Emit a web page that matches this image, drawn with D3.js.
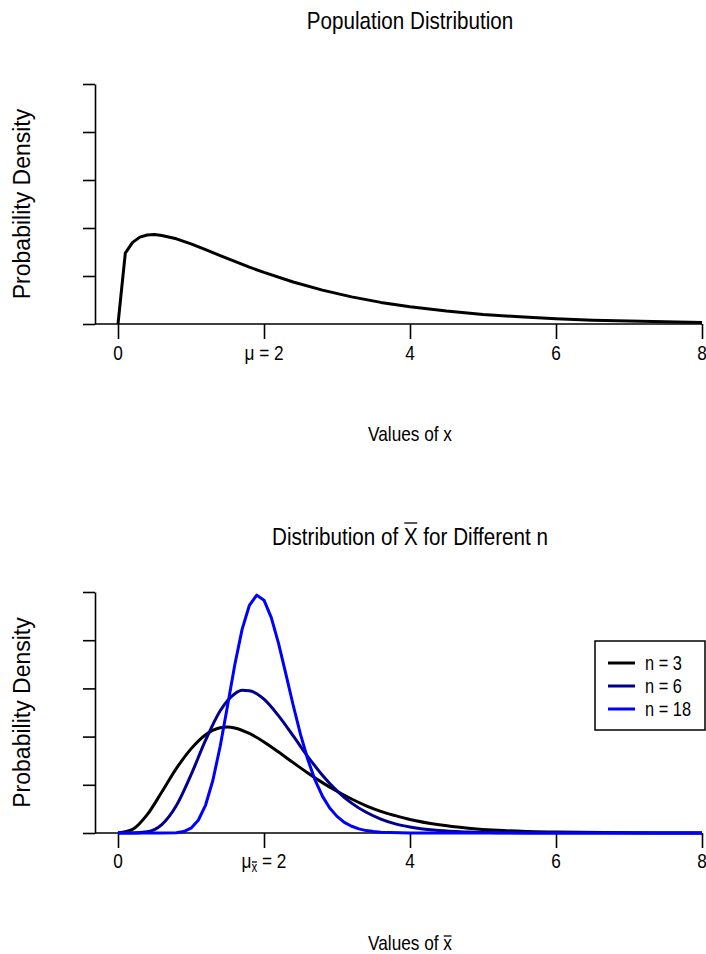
<!DOCTYPE html>
<html>
<head>
<meta charset="utf-8">
<script src="https://cdn.jsdelivr.net/npm/d3@7"></script>
<style>
  body { margin: 0; background: #fff; }
  svg { display: block; }
</style>
</head>
<body>
<div id="chart"></div>
<script>
// population density
const popX = [0, 0.1, 0.2, 0.3, 0.4, 0.5, 0.6, 0.8, 1.0, 1.2, 1.4, 1.6, 1.8, 2.0,
  2.4, 2.8, 3.2, 3.6, 4.0, 4.5, 5.0, 5.5, 6.0, 6.5, 7.0, 7.5, 8.0];
const popDensity = [0, 0.295, 0.340, 0.362, 0.371, 0.373, 0.369, 0.355, 0.334, 0.310,
  0.285, 0.261, 0.237, 0.215, 0.175, 0.141, 0.113, 0.090, 0.072, 0.054, 0.040, 0.030,
  0.022, 0.016, 0.012, 0.009, 0.006];

// sampling distributions of the mean
const n3X = [0, 0.2, 0.4, 0.6, 0.8, 1.0, 1.2, 1.4, 1.5, 1.6, 1.8, 2.0, 2.2, 2.4, 2.6, 2.8,
  3.0, 3.2, 3.4, 3.6, 3.8, 4.0, 4.4, 4.8, 5.2, 5.6, 6.0, 7.0, 8.0];
const densN3 = [0, 0.015, 0.076, 0.170, 0.268, 0.349, 0.408, 0.437, 0.440, 0.436, 0.413,
  0.378, 0.336, 0.292, 0.249, 0.209, 0.173, 0.141, 0.113, 0.090, 0.072, 0.056, 0.034,
  0.020, 0.011, 0.006, 0.004, 0.001, 0.0002];
const n6X = [0, 0.2, 0.4, 0.6, 0.8, 1.0, 1.2, 1.4, 1.6, 1.7, 1.8, 1.9, 2.0, 2.2, 2.4, 2.6,
  2.8, 3.0, 3.2, 3.4, 3.6, 3.8, 4.0, 4.4, 4.8, 5.2, 5.6, 6.0, 7.0, 8.0];
const densN6 = [0, 0.0001, 0.005, 0.035, 0.114, 0.241, 0.385, 0.507, 0.578, 0.592, 0.590,
  0.578, 0.555, 0.486, 0.403, 0.317, 0.240, 0.175, 0.124, 0.086, 0.058, 0.038, 0.025,
  0.010, 0.004, 0.0013, 0.0004, 0.0001, 0, 0];
const n18X = [0, 0.6, 0.8, 0.9, 1.0, 1.1, 1.2, 1.3, 1.4, 1.5, 1.6, 1.7, 1.8, 1.9, 2.0,
  2.1, 2.2, 2.3, 2.4, 2.5, 2.6, 2.7, 2.8, 2.9, 3.0, 3.1, 3.2, 3.3, 3.4, 3.5, 3.6, 4.0, 8.0];
const densN18 = [0, 0, 0.001, 0.006, 0.020, 0.053, 0.116, 0.219, 0.360, 0.527, 0.698,
  0.845, 0.945, 0.987, 0.966, 0.894, 0.786, 0.659, 0.530, 0.409, 0.305, 0.219, 0.153,
  0.104, 0.069, 0.044, 0.028, 0.017, 0.010, 0.006, 0.0035, 0.0003, 0];

const legendLabels = ['n = 3', 'n = 6', 'n = 18'];
const seriesColors = ['#000000', '#00008b', '#0000ff'];
const xTicks = [0, 2, 4, 6, 8];
const yTicks = [0, 0.2, 0.4, 0.6, 0.8, 1.0];

const WIDTH = 706;
const HEIGHT = 954;
const FONT = '"Liberation Sans", Arial, sans-serif';
const NARROW = 0.82; // no narrow face installed, squeeze horizontally
const AXIS_X = 95;

const svg = d3.select('#chart').append('svg')
  .attr('width', WIDTH)
  .attr('height', HEIGHT);

const x = d3.scaleLinear().domain([0, 8]).range([118, 702]);

// text made of pieces, some with an overline and/or as subscript
const richText = (parent, px, py, segments, opts) => {
  const g = parent.append('g')
    .attr('transform', `translate(${px},${py}) scale(${opts.sx || NARROW},1)`);
  const text = g.append('text')
    .attr('text-anchor', opts.anchor || 'middle')
    .style('font-family', FONT)
    .style('font-size', `${opts.size}px`)
    .attr('fill', '#000');

  let shift = 0;
  segments.forEach((s) => {
    const ts = text.append('tspan').text(s.t);
    const want = s.sub ? opts.subShift : 0;
    if (want !== shift) {
      ts.attr('dy', want - shift);
      shift = want;
    }
    if (s.sub) ts.style('font-size', `${opts.subSize}px`);
  });

  const node = text.node();
  let idx = 0;
  segments.forEach((s) => {
    if (s.bar) {
      const a = node.getStartPositionOfChar(idx);
      const b = node.getEndPositionOfChar(idx + s.t.length - 1);
      const barY = a.y - s.barH;
      g.append('line')
        .attr('x1', a.x + 0.5)
        .attr('x2', b.x - 0.5)
        .attr('y1', barY)
        .attr('y2', barY)
        .attr('stroke', '#000')
        .attr('stroke-width', 1.3);
    }
    idx += s.t.length;
  });
  return g;
};

const drawPanel = (cfg) => {
  const y = d3.scaleLinear().domain([0, 1]).range([cfg.bottom, cfg.top]);
  const g = svg.append('g');

  // y axis, no labels
  g.append('g')
    .attr('transform', `translate(${AXIS_X},0)`)
    .call(d3.axisLeft(y).tickValues(yTicks).tickFormat('').tickSize(12).tickSizeOuter(0))
    .call((a) => a.selectAll('path, line').attr('stroke', '#000').attr('stroke-width', 1.6));

  // x axis ticks
  g.append('g')
    .attr('transform', `translate(0,${cfg.bottom})`)
    .call(d3.axisBottom(x).tickValues(xTicks).tickFormat('').tickSize(15).tickSizeOuter(0))
    .call((a) => a.select('.domain').remove())
    .call((a) => a.selectAll('line').attr('stroke', '#000').attr('stroke-width', 1.6));

  g.append('line')
    .attr('x1', AXIS_X)
    .attr('x2', x(8))
    .attr('y1', cfg.bottom)
    .attr('y2', cfg.bottom)
    .attr('stroke', '#000')
    .attr('stroke-width', 1.6);

  xTicks.forEach((v) => {
    const segs = v === 2 ? cfg.muLabel : [{ t: String(v) }];
    richText(g, x(v), cfg.bottom + cfg.tickLabDy, segs, { size: 21, subSize: 14, subShift: 4 });
  });

  richText(g, 410, cfg.titleY, cfg.title, { size: 24, sx: 0.86 });
  richText(g, 410, cfg.xlabY, cfg.xlab, { size: 21 });

  g.append('text')
    .attr('transform', `translate(30,${(cfg.top + cfg.bottom) / 2}) rotate(-90)`)
    .attr('text-anchor', 'middle')
    .style('font-family', FONT)
    .style('font-size', '23px')
    .text('Probability Density');

  cfg.series.forEach((s) => {
    const line = d3.line()
      .x((d, i) => x(s.xs[i]))
      .y((d) => y(d))
      .curve(s.curve);
    g.append('path')
      .datum(s.ys)
      .attr('d', line)
      .attr('fill', 'none')
      .attr('stroke', s.color)
      .attr('stroke-width', 3)
      .attr('stroke-linejoin', 'round');
  });
  return g;
};

drawPanel({
  top: 84,
  bottom: 324,
  tickLabDy: 36,
  titleY: 29,
  xlabY: 441,
  title: [{ t: 'Population Distribution' }],
  xlab: [{ t: 'Values of x' }],
  muLabel: [{ t: 'μ = 2' }],
  series: [{ xs: popX, ys: popDensity, color: '#000', curve: d3.curveLinear }],
});

drawPanel({
  top: 592,
  bottom: 833,
  tickLabDy: 35,
  titleY: 545,
  xlabY: 950,
  title: [{ t: 'Distribution of ' }, { t: 'X', bar: true, barH: 22 }, { t: ' for Different n' }],
  xlab: [{ t: 'Values of ' }, { t: 'x', bar: true, barH: 14 }],
  muLabel: [{ t: 'μ' }, { t: 'x', sub: true, bar: true, barH: 10 }, { t: ' = 2' }],
  series: [
    { xs: n3X, ys: densN3, color: seriesColors[0], curve: d3.curveMonotoneX },
    { xs: n6X, ys: densN6, color: seriesColors[1], curve: d3.curveMonotoneX },
    { xs: n18X, ys: densN18, color: seriesColors[2], curve: d3.curveLinear },
  ],
});

// legend
const legend = svg.append('g').attr('transform', 'translate(595,641)');
legend.append('rect')
  .attr('width', 110)
  .attr('height', 89)
  .attr('fill', '#fff')
  .attr('stroke', '#000')
  .attr('stroke-width', 1.5);

legendLabels.forEach((label, i) => {
  const rowY = 22 + i * 23;
  legend.append('line')
    .attr('x1', 13)
    .attr('x2', 40)
    .attr('y1', rowY)
    .attr('y2', rowY)
    .attr('stroke', seriesColors[i])
    .attr('stroke-width', 3);
  richText(legend, 50, rowY + 7, [{ t: label }], { size: 20, anchor: 'start' });
});
</script>
</body>
</html>
